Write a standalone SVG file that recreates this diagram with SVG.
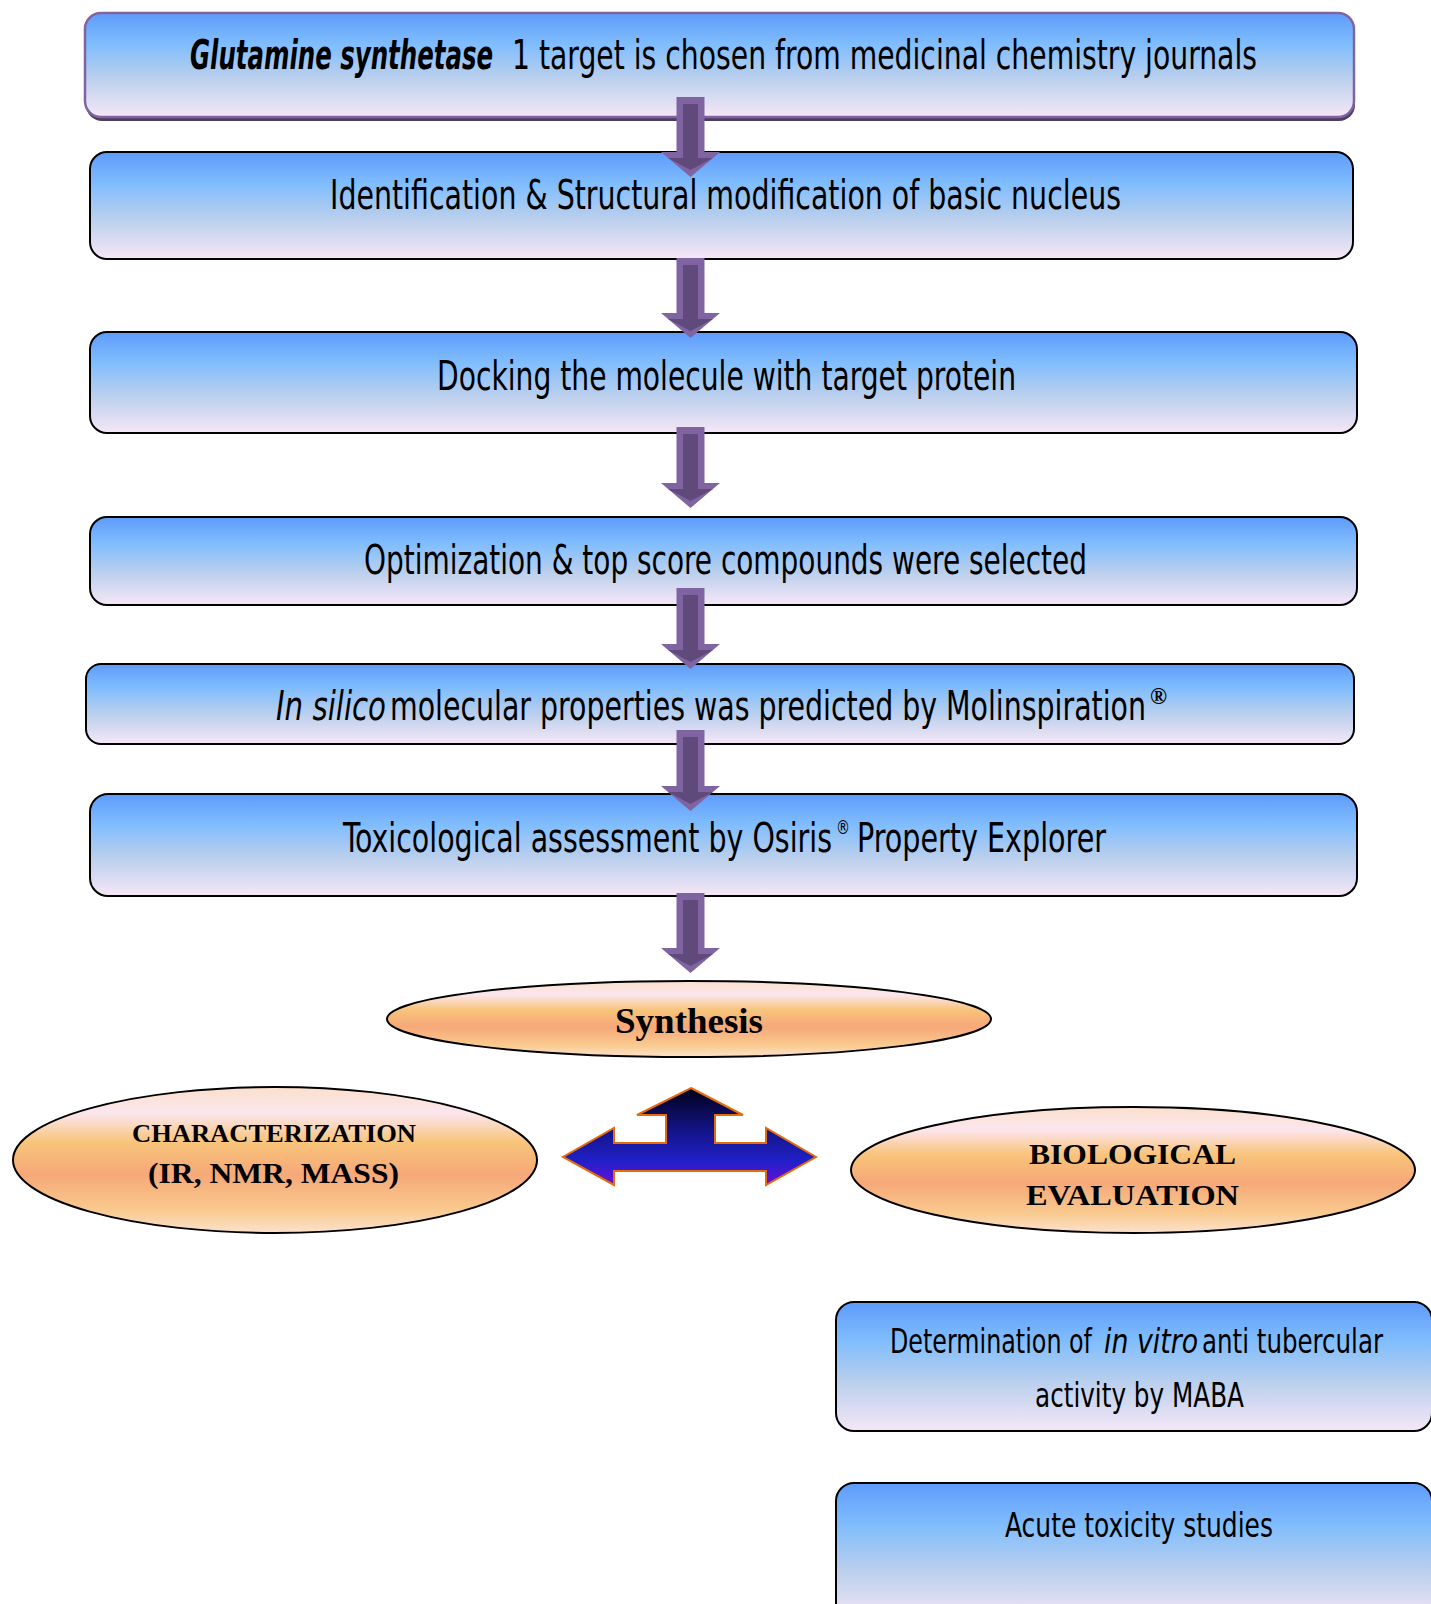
<svg xmlns="http://www.w3.org/2000/svg" width="1431" height="1604" viewBox="0 0 1431 1604">
  <defs>
    <linearGradient id="boxGrad" x1="0" y1="0" x2="0" y2="1">
      <stop offset="0" stop-color="#5e9bfb"/>
      <stop offset="0.3" stop-color="#80bdfd"/>
      <stop offset="0.62" stop-color="#b9cfed"/>
      <stop offset="1" stop-color="#f6e7f6"/>
    </linearGradient>
    <linearGradient id="ellGrad" x1="0" y1="0" x2="0" y2="1">
      <stop offset="0" stop-color="#fbe0cc"/>
      <stop offset="0.18" stop-color="#fce6ee"/>
      <stop offset="0.38" stop-color="#f8c47a"/>
      <stop offset="0.6" stop-color="#f6a878"/>
      <stop offset="0.84" stop-color="#f9c98e"/>
      <stop offset="1" stop-color="#fbe2cc"/>
    </linearGradient>
    <linearGradient id="triGrad" x1="0" y1="0" x2="0" y2="1">
      <stop offset="0" stop-color="#000018"/>
      <stop offset="0.45" stop-color="#14148a"/>
      <stop offset="0.75" stop-color="#2020c8"/>
      <stop offset="1" stop-color="#6a0ed8"/>
    </linearGradient>
    <style>
      .box { fill: url(#boxGrad); stroke: #000; stroke-width: 2; }
      .ell { fill: url(#ellGrad); stroke: #000; stroke-width: 2; }
      .t { font-family: "Liberation Sans Narrow", "DejaVu Sans Condensed", "Liberation Sans", sans-serif; fill: #000; }
      .big { font-size: 41px; }
      .mid { font-size: 34px; }
      .it { font-style: italic; }
      .serif { font-family: "Liberation Serif", "Times New Roman", serif; font-weight: bold; fill: #000; }
      .arrOut { fill: #8064a2; }
      .arrIn { fill: #5f4a7b; }
    </style>
  </defs>

  <!-- Node boxes -->
  <g id="node-glutamine">
    <rect x="86" y="17" width="1269" height="104" rx="16" fill="#4b3d63"/>
    <rect x="85" y="13" width="1269" height="104" rx="16" fill="url(#boxGrad)" stroke="#8064a2" stroke-width="2.5"/>
    <text class="t big it" x="190" y="69" textLength="303" lengthAdjust="spacingAndGlyphs" font-weight="bold">Glutamine synthetase</text>
    <text class="t big" x="512" y="69" textLength="745" lengthAdjust="spacingAndGlyphs">1 target is chosen from medicinal chemistry journals</text>
  </g>

  <g id="node-identification">
    <rect class="box" x="90" y="152" width="1263" height="107" rx="17"/>
    <text class="t big" x="330" y="209" textLength="791" lengthAdjust="spacingAndGlyphs">Identification &amp; Structural modification of basic nucleus</text>
  </g>

  <g id="node-docking">
    <rect class="box" x="90" y="332" width="1267" height="101" rx="17"/>
    <text class="t big" x="437" y="390" textLength="579" lengthAdjust="spacingAndGlyphs">Docking the molecule with target protein</text>
  </g>

  <g id="node-optimization">
    <rect class="box" x="90" y="517" width="1267" height="88" rx="17"/>
    <text class="t big" x="364" y="574" textLength="723" lengthAdjust="spacingAndGlyphs">Optimization &amp; top score compounds were selected</text>
  </g>

  <g id="node-insilico">
    <rect class="box" x="86" y="664" width="1268" height="80" rx="15"/>
    <text class="t big it" x="276" y="720" textLength="110" lengthAdjust="spacingAndGlyphs">In silico</text>
    <text class="t big" x="390" y="720" textLength="756" lengthAdjust="spacingAndGlyphs">molecular properties was predicted by Molinspiration</text>
    <text class="serif" x="1150" y="704" font-size="24" font-weight="normal" textLength="17" lengthAdjust="spacingAndGlyphs">®</text>
  </g>

  <g id="node-toxicological">
    <rect class="box" x="90" y="794" width="1267" height="102" rx="18"/>
    <text class="t big" x="343" y="852" textLength="489" lengthAdjust="spacingAndGlyphs">Toxicological assessment by Osiris</text>
    <text class="t" x="836" y="834" font-size="20" textLength="14" lengthAdjust="spacingAndGlyphs">®</text>
    <text class="t big" x="857" y="852" textLength="249" lengthAdjust="spacingAndGlyphs">Property Explorer</text>
  </g>

  <g id="node-synthesis">
    <ellipse class="ell" cx="689" cy="1019" rx="302" ry="38"/>
    <text class="serif" x="615" y="1033" font-size="36" textLength="148" lengthAdjust="spacingAndGlyphs">Synthesis</text>
  </g>

  <g id="node-characterization">
    <ellipse class="ell" cx="275" cy="1160" rx="262" ry="73"/>
    <text class="serif" x="132" y="1142" font-size="26" textLength="284" lengthAdjust="spacingAndGlyphs">CHARACTERIZATION</text>
    <text class="serif" x="148" y="1183" font-size="30" textLength="251" lengthAdjust="spacingAndGlyphs">(IR, NMR, MASS)</text>
  </g>

  <g id="node-biological">
    <ellipse class="ell" cx="1133" cy="1170" rx="282" ry="63"/>
    <text class="serif" x="1029" y="1164" font-size="30" textLength="207" lengthAdjust="spacingAndGlyphs">BIOLOGICAL</text>
    <text class="serif" x="1026" y="1205" font-size="30" textLength="213" lengthAdjust="spacingAndGlyphs">EVALUATION</text>
  </g>

  <g id="node-determination">
    <rect class="box" x="836" y="1302" width="596" height="129" rx="18"/>
    <text class="t mid" x="890" y="1353" textLength="202" lengthAdjust="spacingAndGlyphs">Determination of</text>
    <text class="t mid it" x="1104" y="1353" textLength="94" lengthAdjust="spacingAndGlyphs">in vitro</text>
    <text class="t mid" x="1202" y="1353" textLength="181" lengthAdjust="spacingAndGlyphs">anti tubercular</text>
    <text class="t mid" x="1035" y="1407" textLength="209" lengthAdjust="spacingAndGlyphs">activity by MABA</text>
  </g>

  <g id="node-acute">
    <rect class="box" x="836" y="1483" width="596" height="140" rx="18"/>
    <text class="t mid" x="1005" y="1537" textLength="268" lengthAdjust="spacingAndGlyphs">Acute toxicity studies</text>
  </g>

  <!-- Connectors -->
  <g id="connectors">
    <g id="arrow-1">
      <polygon class="arrOut" points="676.5,97 704.5,97 704.5,152 720,152 690.5,177 661,152 676.5,152"/>
      <polygon class="arrIn" points="683,104 698,104 698,158 713,158 690.5,170 668,158 683,158"/>
    </g>
    <g id="arrow-2">
      <polygon class="arrOut" points="676.5,258 704.5,258 704.5,313 720,313 690.5,338 661,313 676.5,313"/>
      <polygon class="arrIn" points="683,265 698,265 698,319 713,319 690.5,331 668,319 683,319"/>
    </g>
    <g id="arrow-3">
      <polygon class="arrOut" points="676.5,427 704.5,427 704.5,483 720,483 690.5,508 661,483 676.5,483"/>
      <polygon class="arrIn" points="683,434 698,434 698,489 713,489 690.5,501 668,489 683,489"/>
    </g>
    <g id="arrow-4">
      <polygon class="arrOut" points="676.5,588 704.5,588 704.5,644 720,644 690.5,669 661,644 676.5,644"/>
      <polygon class="arrIn" points="683,595 698,595 698,650 713,650 690.5,662 668,650 683,650"/>
    </g>
    <g id="arrow-5">
      <polygon class="arrOut" points="676.5,730 704.5,730 704.5,786 720,786 690.5,811 661,786 676.5,786"/>
      <polygon class="arrIn" points="683,737 698,737 698,792 713,792 690.5,804 668,792 683,792"/>
    </g>
    <g id="arrow-6">
      <polygon class="arrOut" points="676.5,893 704.5,893 704.5,948 720,948 690.5,973 661,948 676.5,948"/>
      <polygon class="arrIn" points="683,900 698,900 698,954 713,954 690.5,966 668,954 683,954"/>
    </g>
    <g id="arrow-three-way">
      <polygon points="691,1088 743,1115 715,1115 715,1143 766,1143 766,1128 816,1157 766,1185 766,1171 614,1171 614,1185 563,1157 614,1128 614,1143 666,1143 666,1115 637,1115" fill="url(#triGrad)" stroke="#e46c0a" stroke-width="2" stroke-linejoin="miter"/>
    </g>
  </g>
</svg>
